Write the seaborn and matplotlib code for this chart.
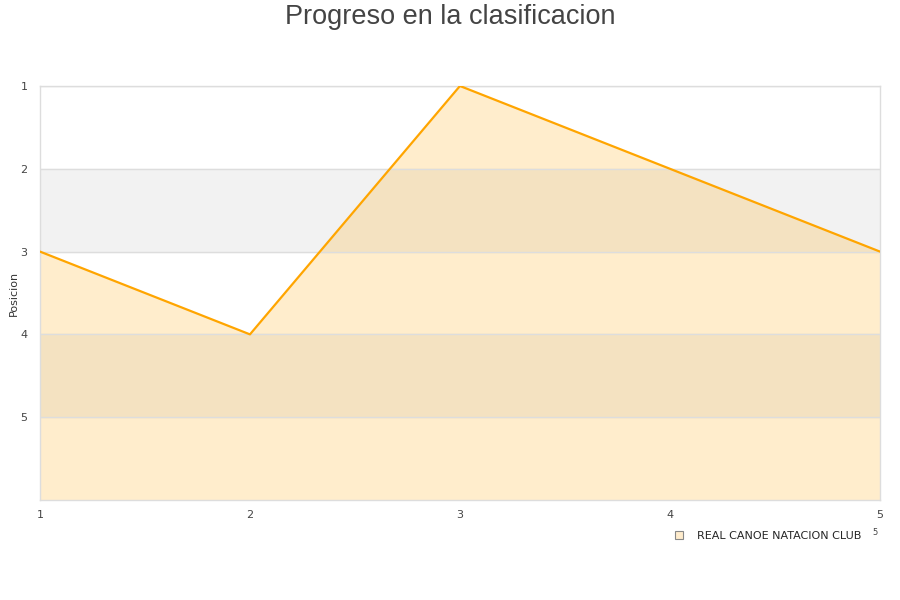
import pandas as pd
import seaborn as sns
import matplotlib.pyplot as plt

jornadas = [1, 2, 3, 4, 5]
posiciones = [3, 4, 1, 2, 3]
equipo = "REAL CANOE NATACION CLUB"

df = pd.DataFrame({"jornada": jornadas, "posicion": posiciones})

sns.set_theme(style="white")
plt.rcParams['font.family'] = ['DejaVu Sans']

fig = plt.figure(figsize=(9, 6), dpi=100)
ax = fig.add_axes([0.0444, 0.1667, 0.9333, 0.69])

# alternating bands
for lo in [2, 4]:
    ax.axhspan(lo, lo + 1, color="#f2f2f2", zorder=0)

ax.fill_between(df["jornada"], df["posicion"], 6, color="#ffa500", alpha=0.2, lw=0, zorder=1)
sns.lineplot(data=df, x="jornada", y="posicion", color="#ffa500", lw=1.6, ax=ax, zorder=3)

ax.set_xlim(1, 5)
ax.set_ylim(6, 1)
ax.set_xticks(jornadas)
ax.set_yticks([1, 2, 3, 4, 5])
for y in [1, 2, 3, 4, 5]:
    ax.axhline(y, color="#dddddd", lw=1, zorder=2)
ax.tick_params(axis="x", labelsize=8, colors="#444444", length=0, pad=7)
ax.tick_params(axis="y", labelsize=8, colors="#444444", length=0, pad=9)
ax.set_xlabel("")
ax.set_ylabel("Posicion", fontsize=8, color="#333333")
ax.yaxis.set_label_coords(-0.025, 0.5)
for s in ax.spines.values():
    s.set_color("#dddddd")
    s.set_linewidth(1)

fig.suptitle("Progreso en la clasificacion", fontsize=19.5, color="#444444", y=0.993,
             family=["Liberation Sans", "DejaVu Sans"])

leg_handle = plt.Rectangle((0, 0), 1, 1, facecolor="#ffeccc", edgecolor="#888888", lw=0.8)
fig.legend([leg_handle], [equipo], loc="center right", bbox_to_anchor=(0.968, 0.107),
           frameon=False, fontsize=8, handlelength=0.8, handleheight=0.8, handletextpad=1.2)
# small stray page label next to the legend
fig.text(0.972, 0.113, "5", fontsize=6, color="#444444", ha="center", va="center")

fig.savefig("out.png", dpi=100)
